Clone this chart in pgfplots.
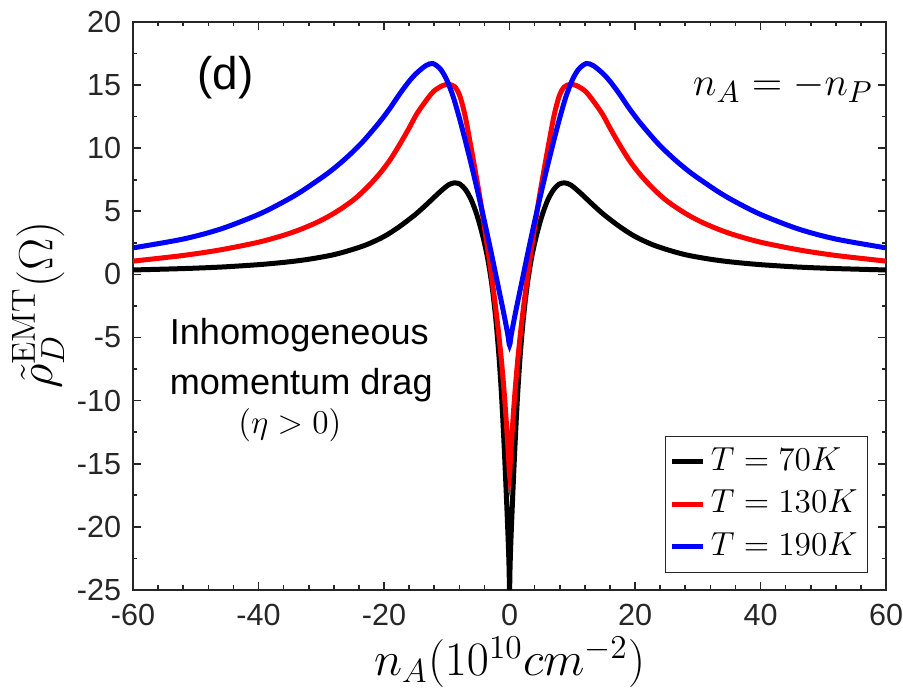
\documentclass[border=0pt]{standalone}
\usepackage[no-math]{fontspec}
\setmainfont{Liberation Sans}
\usepackage{pgfplots}
\pgfplotsset{compat=1.18}
\definecolor{axgray}{HTML}{262626}
\begin{document}
\begin{tikzpicture}
\path[use as bounding box] (-47.9pt,-35.3pt) rectangle (277.2pt,212.4pt);
\begin{axis}[
  at={(0,0)}, anchor=south west,
  width=271.1pt, height=204.5pt, scale only axis,
  xmin=-60, xmax=60, ymin=-25, ymax=20,
  xtick={-60,-40,...,60}, ytick={-25,-20,...,20},
  minor x tick num=4, minor y tick num=1,
  tick align=inside,
  major tick length=2.9pt, minor tick length=1.6pt,
  axis line style={axgray, line width=0.7pt},
  every tick/.style={axgray, line width=0.6pt},
  tick label style={font=\fontsize{11}{13}\selectfont, text=axgray},
  /pgf/number format/assume math mode=true,
  xticklabel style={yshift=-1.5pt},
  yticklabel style={xshift=-0.8pt},
  xlabel={$n_A(10^{10}cm^{-2})$},
  ylabel={$\tilde{\rho}_D^{\mathrm{EMT}}(\Omega)$},
  xlabel style={font=\fontsize{18}{20}\selectfont, at={(axis description cs:0.5,-0.127)}, anchor=center},
  ylabel style={font=\fontsize{18}{20}\selectfont, at={(axis description cs:-0.126,0.502)}, anchor=center, rotate=0},
  legend style={at={(axis description cs:0.976,0.030)}, anchor=south east,
    draw=axgray, line width=0.5pt, fill=white,
    font=\fontsize{12}{14}\selectfont, inner sep=1.5pt, row sep=0pt,
    nodes={inner sep=2pt, text height=8.7pt, text depth=2.6pt}},
  legend cell align=left,
  legend image code/.code={\draw[#1] (0pt,0pt) -- (11pt,0pt);},
  every axis plot/.append style={line width=1.8pt},
]
\addplot[black, smooth] coordinates {
(-60,0.35)(-52,0.46)(-46,0.58)(-40,0.77)(-36,0.95)(-33.4,1.1)(-31,1.28)(-28.1,1.55)(-25.5,1.9)(-22.8,2.35)(-20,3.0)(-17.5,3.8)(-15,4.75)(-13.2,5.55)(-11.5,6.35)(-10.6,6.75)(-9.7,7.1)(-8.8,7.25)(-7.9,7.15)(-7.0,6.7)(-6.1,5.9)(-5.2,4.7)(-4.3,3.1)(-3.5,1.3)(-2.8,-0.9)(-2.2,-3.5)(-1.7,-6.4)(-1.3,-9.4)(-0.95,-12.7)(-0.65,-15.9)(-0.4,-18.8)(-0.2,-21.3)(-0.08,-23.2)(0,-25)
(0.08,-23.2)(0.2,-21.3)(0.4,-18.8)(0.65,-15.9)(0.95,-12.7)(1.3,-9.4)(1.7,-6.4)(2.2,-3.5)(2.8,-0.9)(3.5,1.3)(4.3,3.1)(5.2,4.7)(6.1,5.9)(7.0,6.7)(7.9,7.15)(8.8,7.25)(9.7,7.1)(10.6,6.75)(11.5,6.35)(13.2,5.55)(15,4.75)(17.5,3.8)(20,3.0)(22.8,2.35)(25.5,1.9)(28.1,1.55)(31,1.28)(33.4,1.1)(36,0.95)(40,0.77)(46,0.58)(52,0.46)(60,0.35)
};
\addlegendentry{$T=70K$}
\addplot[red, smooth] coordinates {
(-60,1.05)(-52,1.5)(-46,1.95)(-40,2.55)(-36,3.1)(-33.4,3.55)(-31,4.05)(-29,4.55)(-27,5.15)(-25,5.85)(-23.5,6.5)(-22,7.25)(-20.5,8.1)(-19,9.1)(-17.5,10.3)(-16,11.6)(-14.8,12.7)(-13.4,13.7)(-12.1,14.5)(-10.7,14.95)(-9.7,15.05)(-8.7,14.85)(-7.9,14.1)(-7.1,12.6)(-6.3,10.5)(-5.5,8.3)(-4.7,6.0)(-3.9,3.4)(-3.1,0.7)(-2.4,-1.9)(-1.8,-4.4)(-1.3,-6.8)(-0.9,-9.1)(-0.6,-11.1)(-0.35,-13.0)(-0.15,-14.6)(0,-15.9)
(0.15,-14.6)(0.35,-13.0)(0.6,-11.1)(0.9,-9.1)(1.3,-6.8)(1.8,-4.4)(2.4,-1.9)(3.1,0.7)(3.9,3.4)(4.7,6.0)(5.5,8.3)(6.3,10.5)(7.1,12.6)(7.9,14.1)(8.7,14.85)(9.7,15.05)(10.7,14.95)(12.1,14.5)(13.4,13.7)(14.8,12.7)(16,11.6)(17.5,10.3)(19,9.1)(20.5,8.1)(22,7.25)(23.5,6.5)(25,5.85)(27,5.15)(29,4.55)(31,4.05)(33.4,3.55)(36,3.1)(40,2.55)(46,1.95)(52,1.5)(60,1.05)
};
\addlegendentry{$T=130K$}
\addplot[blue, smooth] coordinates {
(-60,2.1)(-52,2.8)(-46,3.6)(-40,4.75)(-36,5.75)(-33.4,6.5)(-31,7.3)(-29,8.0)(-27,8.8)(-25,9.7)(-23.5,10.45)(-22,11.3)(-20.5,12.2)(-19,13.2)(-17.5,14.3)(-16,15.3)(-14.8,15.95)(-13.3,16.55)(-12.2,16.7)(-11,16.25)(-10,15.4)(-9,14.1)(-8,12.4)(-7,10.5)(-6,8.5)(-5,6.4)(-4,4.2)(-3,1.9)(-2,-0.5)(-1,-2.9)(-0.3,-4.7)(0,-5.6)
(0.3,-4.7)(1,-2.9)(2,-0.5)(3,1.9)(4,4.2)(5,6.4)(6,8.5)(7,10.5)(8,12.4)(9,14.1)(10,15.4)(11,16.25)(12.2,16.7)(13.3,16.55)(14.8,15.95)(16,15.3)(17.5,14.3)(19,13.2)(20.5,12.2)(22,11.3)(23.5,10.45)(25,9.7)(27,8.8)(29,8.0)(31,7.3)(33.4,6.5)(36,5.75)(40,4.75)(46,3.6)(52,2.8)(60,2.1)
};
\addlegendentry{$T=190K$}
\node[font=\fontsize{16.5}{18}\selectfont] at (axis cs:-45.3,15.6) {(d)};
\node[font=\fontsize{15}{17}\selectfont] at (axis cs:43.6,14.8) {$n_A=-n_P$};
\node[font=\fontsize{13}{15}\selectfont] at (axis cs:-33.5,-4.8) {Inhomogeneous};
\node[font=\fontsize{13}{15}\selectfont] at (axis cs:-33.2,-8.8) {momentum drag};
\node[font=\fontsize{13}{15}\selectfont] at (axis cs:-35.0,-11.95) {$(\eta>0)$};
\end{axis}
\end{tikzpicture}
\end{document}
